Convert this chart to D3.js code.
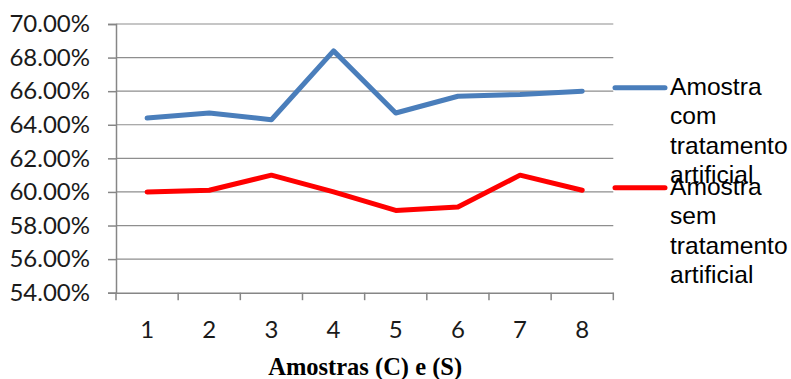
<!DOCTYPE html>
<html>
<head>
<meta charset="utf-8">
<script src="https://cdn.jsdelivr.net/npm/d3@7"></script>
<style>
  html, body { margin: 0; padding: 0; background: #ffffff; }
  svg { display: block; }
</style>
</head>
<body>
<svg id="chart" width="791" height="379"></svg>
<script>
// Sample numbers (x axis)
const categories = ["1", "2", "3", "4", "5", "6", "7", "8"];
// Series values, as fractions
const comTratamento = [0.644, 0.647, 0.643, 0.684, 0.647, 0.657, 0.658, 0.660];
const semTratamento = [0.600, 0.601, 0.610, 0.600, 0.589, 0.591, 0.610, 0.601];
// Y axis tick values
const yTicks = [0.54, 0.56, 0.58, 0.60, 0.62, 0.64, 0.66, 0.68, 0.70];
const seriesNames = [
  ["Amostra", "com", "tratamento", "artificial"],
  ["Amostra", "sem", "tratamento", "artificial"]
];
const seriesColors = ["#4a7ebb", "#ff0000"];
const xTitle = "Amostras (C) e (S)";

const svg = d3.select("#chart");
const plotLeft = 116, plotRight = 613.3, plotTop = 24, plotBottom = 292.7;

const x = d3.scaleBand().domain(categories).range([plotLeft, plotRight]);
const y = d3.scaleLinear().domain([0.54, 0.70]).range([plotBottom, plotTop]);

const axisColor = "#868686";
const tickFont = "Lato, 'Open Sans', sans-serif";

// Horizontal gridlines
svg.append("g")
  .selectAll("line")
  .data(yTicks.filter(d => d > 0.54))
  .join("line")
  .attr("x1", plotLeft).attr("x2", plotRight)
  .attr("y1", d => y(d)).attr("y2", d => y(d))
  .attr("stroke", "#8e8e8e")
  .attr("stroke-width", 1.2);

// Y axis
const yAxis = svg.append("g")
  .attr("transform", `translate(${plotLeft},0)`)
  .call(d3.axisLeft(y).tickValues(yTicks).tickSize(8).tickPadding(18)
    .tickFormat(d3.format(".2%")));
yAxis.select(".domain").attr("stroke", axisColor).attr("stroke-width", 1.5);
yAxis.selectAll(".tick line").attr("stroke", axisColor).attr("stroke-width", 1.5);
yAxis.selectAll(".tick text")
  .attr("fill", "#1a1a1a")
  .style("font-family", tickFont)
  .style("font-size", "24px");

// X axis with ticks on band edges
const xAxis = svg.append("g")
  .attr("transform", `translate(0,${plotBottom})`)
  .call(d3.axisBottom(x).tickSize(0).tickPadding(28));
xAxis.select(".domain").attr("stroke", axisColor).attr("stroke-width", 1.5);
xAxis.selectAll(".tick text")
  .attr("fill", "#1a1a1a")
  .style("font-family", tickFont)
  .style("font-size", "24px");
const edges = categories.map(c => x(c)).concat([x(categories[categories.length - 1]) + x.bandwidth()]);
xAxis.append("g")
  .selectAll("line")
  .data(edges)
  .join("line")
  .attr("x1", d => d).attr("x2", d => d)
  .attr("y1", 0).attr("y2", 7.5)
  .attr("stroke", axisColor)
  .attr("stroke-width", 1.5);

// Axis title
svg.append("text")
  .attr("x", (plotLeft + plotRight) / 2 + 0.5)
  .attr("y", 375)
  .attr("text-anchor", "middle")
  .style("font-family", "'Liberation Serif', 'Times New Roman', serif")
  .style("font-weight", "bold")
  .style("font-size", "24.5px")
  .attr("fill", "#000")
  .text(xTitle);

// Series lines
const line = d3.line()
  .x((d, i) => x(categories[i]) + x.bandwidth() / 2)
  .y(d => y(d));

[comTratamento, semTratamento].forEach((vals, k) => {
  svg.append("path")
    .datum(vals)
    .attr("d", line)
    .attr("fill", "none")
    .attr("stroke", seriesColors[k])
    .attr("stroke-width", 5)
    .attr("stroke-linejoin", "round")
    .attr("stroke-linecap", "round");
});

// Legend
const legendY = [87.7, 187.7];
seriesNames.forEach((lines, k) => {
  const g = svg.append("g");
  g.append("line")
    .attr("x1", 615).attr("x2", 665)
    .attr("y1", legendY[k]).attr("y2", legendY[k])
    .attr("stroke", seriesColors[k])
    .attr("stroke-width", 5)
    .attr("stroke-linecap", "round");
  const t = g.append("text")
    .attr("x", 670)
    .attr("y", legendY[k] + 7.5)
    .style("font-family", "'Liberation Sans', Arial, sans-serif")
    .style("font-size", "24.6px")
    .attr("fill", "#000");
  lines.forEach((s, i) => {
    t.append("tspan")
      .attr("x", 670)
      .attr("dy", i === 0 ? 0 : 29.2)
      .text(s);
  });
});
</script>
</body>
</html>
